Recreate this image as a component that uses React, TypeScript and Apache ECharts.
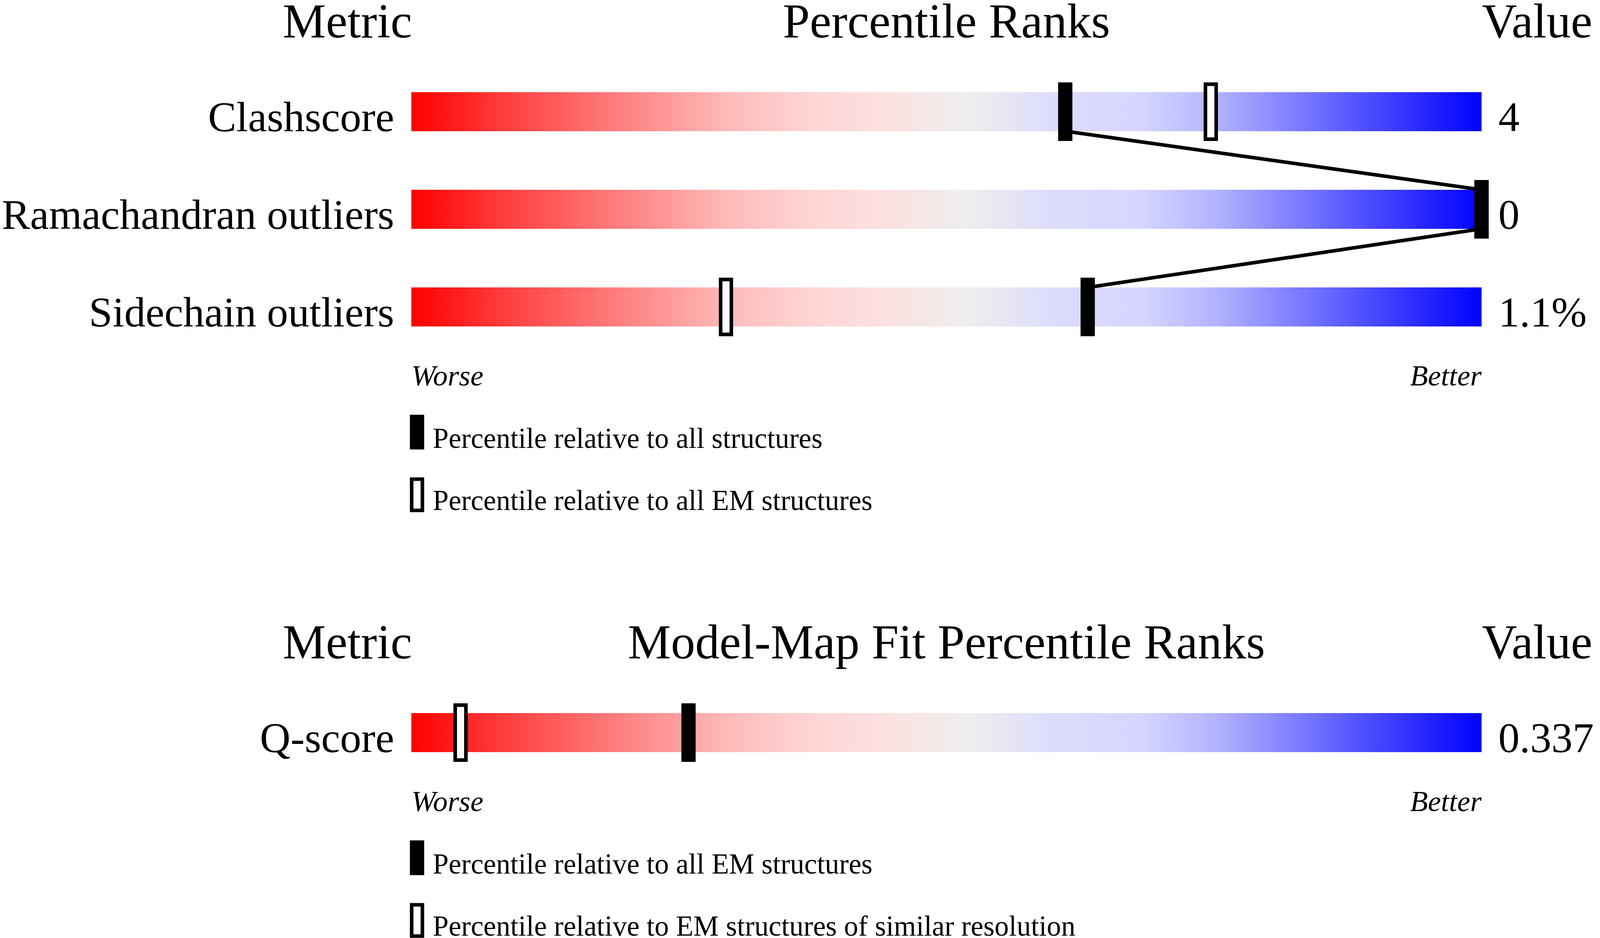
import React, { useEffect, useRef } from "react";
import * as echarts from "echarts";

// validation metrics (top panel)
const metrics = ["Clashscore", "Ramachandran outliers", "Sidechain outliers"];
const metricValues = ["4", "0", "1.1%"];
const pctAll = [61.1, 100, 63.2]; // percentile vs all structures (filled marker)
const pctEM = [74.7, 100, 29.4]; // percentile vs all EM structures (hollow marker)

// model-map fit (bottom panel)
const fitMetrics = ["Q-score"];
const fitValues = ["0.337"];
const fitPctAllEM = [25.9];
const fitPctRes = [4.6];

const FONT = "'Liberation Serif', 'Times New Roman', serif";
const CENTRAL = 0.3375; // baseline offset of Liberation Serif for dominant-baseline central

// layout is designed on a 4485 x 2402 canvas and scaled to the window
const REF_W = 4485;
const REF_H = 2402;

const gradient = {
  type: "linear",
  x: 0,
  y: 0,
  x2: 1,
  y2: 0,
  colorStops: [
    { offset: 0, color: "#ff0000" },
    { offset: 0.1, color: "#ff4646" },
    { offset: 0.2, color: "#ff8282" },
    { offset: 0.3, color: "#ffbcbc" },
    { offset: 0.38, color: "#ffd6d6" },
    { offset: 0.45, color: "#fbe2e2" },
    { offset: 0.52, color: "#eeeeee" },
    { offset: 0.6, color: "#dcdcfc" },
    { offset: 0.68, color: "#d6d6ff" },
    { offset: 0.75, color: "#b4b4ff" },
    { offset: 0.85, color: "#6c6cff" },
    { offset: 1, color: "#0000ff" },
  ],
};

const App: React.FC = () => {
  const chartRef = useRef<HTMLDivElement>(null);

  useEffect(() => {
    if (!chartRef.current) return;
    const kx = window.innerWidth / REF_W;
    const ky = window.innerHeight / REF_H;
    const k = Math.min(kx, ky);
    const X = (v: number) => v * kx;
    const Y = (v: number) => v * ky;

    const BAR_H = Y(100);
    const MARK_W = X(40);
    const MARK_H = Y(150);
    const LW = 10 * k;

    const txt = (
      x: number,
      baseline: number,
      text: string,
      size: number,
      align: string,
      italic = false
    ) => ({
      type: "text",
      x,
      y: baseline - CENTRAL * size,
      style: {
        text,
        fontSize: size,
        fontFamily: FONT,
        fontStyle: italic ? "italic" : "normal",
        fill: "#000",
        align,
        verticalAlign: "middle",
      },
    });

    const makeSeries = (
      axis: number,
      labels: string[],
      values: string[],
      filled: number[],
      hollow: number[]
    ) => [
      {
        type: "custom",
        xAxisIndex: axis,
        yAxisIndex: axis,
        z: 1,
        data: labels.map((_, i) => [0, i]),
        renderItem: (params: any, api: any) => {
          const i = params.dataIndex;
          const a = api.coord([0, i]);
          const b = api.coord([100, i]);
          const base = a[1] + BAR_H / 2;
          return {
            type: "group",
            children: [
              {
                type: "rect",
                shape: { x: a[0], y: a[1] - BAR_H / 2, width: b[0] - a[0], height: BAR_H },
                style: { fill: gradient },
              },
              txt(a[0] - X(48), base, labels[i], 119 * k, "right"),
              txt(b[0] + X(47), base, values[i], 119 * k, "left"),
            ],
          };
        },
      },
      {
        type: "custom",
        xAxisIndex: axis,
        yAxisIndex: axis,
        z: 2,
        data: filled.slice(0, -1).map((p, i) => [p, i, filled[i + 1], i + 1]),
        renderItem: (params: any, api: any) => {
          const s = api.coord([api.value(0), api.value(1)]);
          const e = api.coord([api.value(2), api.value(3)]);
          return {
            type: "line",
            shape: { x1: s[0], y1: s[1] + BAR_H / 2, x2: e[0], y2: e[1] - BAR_H / 2 },
            style: { stroke: "#000", lineWidth: LW },
          };
        },
      },
      {
        type: "custom",
        xAxisIndex: axis,
        yAxisIndex: axis,
        z: 3,
        data: hollow.map((p, i) => [p, i]),
        renderItem: (params: any, api: any) => {
          const c = api.coord([api.value(0), api.value(1)]);
          return {
            type: "rect",
            shape: {
              x: c[0] - MARK_W / 2 + LW / 2,
              y: c[1] - MARK_H / 2 + LW / 2,
              width: MARK_W - LW,
              height: MARK_H - LW,
            },
            style: { fill: "#fff", stroke: "#000", lineWidth: LW },
          };
        },
      },
      {
        type: "custom",
        xAxisIndex: axis,
        yAxisIndex: axis,
        z: 4,
        data: filled.map((p, i) => [p, i]),
        renderItem: (params: any, api: any) => {
          const c = api.coord([api.value(0), api.value(1)]);
          return {
            type: "rect",
            shape: { x: c[0] - MARK_W / 2, y: c[1] - MARK_H / 2, width: MARK_W, height: MARK_H },
            style: { fill: "#000" },
          };
        },
      },
    ];

    const legend = (top: number, first: string, second: string) => [
      { type: "rect", shape: { x: X(1149), y: Y(top), width: X(40), height: Y(89) }, style: { fill: "#000" } },
      txt(X(1213), Y(top + 85), first, 80 * k, "left"),
      {
        type: "rect",
        shape: { x: X(1154), y: Y(top + 165), width: X(30), height: Y(80) },
        style: { fill: "#fff", stroke: "#000", lineWidth: LW },
      },
      txt(X(1213), Y(top + 244), second, 80 * k, "left"),
    ];

    const chart = echarts.init(chartRef.current, null, { renderer: "svg" });

    chart.setOption({
      animation: false,
      backgroundColor: "#fff",
      grid: [
        { left: X(1153), right: X(332), top: Y(161), height: Y(750) },
        { left: X(1153), right: X(332), top: Y(1751), height: Y(250) },
      ],
      xAxis: [
        { type: "value", gridIndex: 0, min: 0, max: 100, show: false },
        { type: "value", gridIndex: 1, min: 0, max: 100, show: false },
      ],
      yAxis: [
        { type: "category", gridIndex: 0, data: metrics, inverse: true, show: false },
        { type: "category", gridIndex: 1, data: fitMetrics, inverse: true, show: false },
      ],
      graphic: [
        // top panel headers
        txt(X(1155), Y(96), "Metric", 136 * k, "right"),
        txt(X(2653), Y(96), "Percentile Ranks", 136 * k, "center"),
        txt(X(4154), Y(96), "Value", 136 * k, "left"),
        txt(X(1153), Y(987), "Worse", 82 * k, "left", true),
        txt(X(4153), Y(987), "Better", 82 * k, "right", true),
        ...legend(1062, "Percentile relative to all structures", "Percentile relative to all EM structures"),
        // bottom panel headers
        txt(X(1155), Y(1686), "Metric", 136 * k, "right"),
        txt(X(2653), Y(1686), "Model-Map Fit Percentile Ranks", 136 * k, "center"),
        txt(X(4154), Y(1686), "Value", 136 * k, "left"),
        txt(X(1153), Y(2077), "Worse", 82 * k, "left", true),
        txt(X(4153), Y(2077), "Better", 82 * k, "right", true),
        ...legend(2152, "Percentile relative to all EM structures", "Percentile relative to EM structures of similar resolution"),
      ],
      series: [
        ...makeSeries(0, metrics, metricValues, pctAll, pctEM),
        ...makeSeries(1, fitMetrics, fitValues, fitPctAllEM, fitPctRes),
      ],
    });

    return () => {
      chart.dispose();
    };
  }, []);

  return (
    <div
      ref={chartRef}
      style={{ position: "absolute", left: 0, top: 0, width: "100vw", height: "100vh" }}
    ></div>
  );
};

export default App;
